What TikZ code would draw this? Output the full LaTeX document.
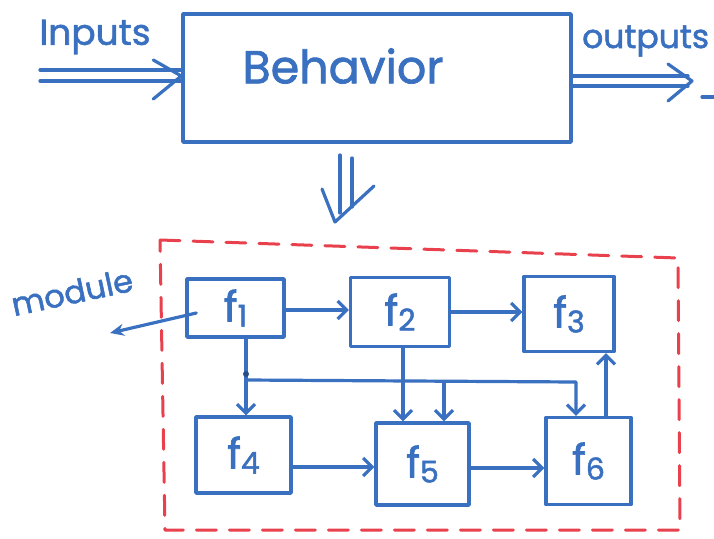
\documentclass[tikz,border=0pt]{standalone}
\usepackage{fontspec}
\setmainfont{Poppins}[FakeBold=1.6]
\usetikzlibrary{arrows.meta}
\definecolor{pen}{RGB}{58,112,192}
\definecolor{redpen}{RGB}{232,64,76}
\newcommand{\flabel}[1]{{\fontsize{42}{42}\selectfont f\raisebox{-5pt}{\fontsize{30}{30}\selectfont #1}}}
\begin{document}
\begin{tikzpicture}[x=1pt,y=-1pt,
  line cap=round, line join=round,
  box/.style={draw=pen, line width=3.4pt, inner sep=0pt, text=pen},
  wire/.style={draw=pen, line width=3.2pt},
  arr/.style={wire, -{Straight Barb[length=9pt,width=18pt,line width=3.2pt]}},
  handtext/.style={text=pen, inner sep=0pt},
  frame/.style={draw=redpen, line width=3pt, dash pattern=on 20pt off 13pt}]
\useasboundingbox (0,0) rectangle (714,538);

% top level: the behaviour block with its inputs and outputs
\node[box, minimum width=388pt, minimum height=128pt] (beh) at (377,78) {};
\node[handtext, font=\fontsize{46}{46}\selectfont] (behtxt) at (343,66) {Behavior};
\node[handtext, font=\fontsize{36}{36}\selectfont] (inlbl) at (95,37) {Inputs};
\node[handtext, font=\fontsize{33}{33}\selectfont, anchor=west] (outlbl) at (582,41) {outputs};

% double input arrow
\coordinate (inA) at (40,70);
\coordinate (inB) at (40,81);
\draw[wire] (inA) -- (inA -| beh.west);
\draw[wire] (inB) -- (inB -| beh.west);
\draw[wire] (beh.west |- 0,76) ++(-28,-16) -- ++(28,16) -- ++(-28,23);

% double output arrow
\coordinate (outtip) at (692,81);
\draw[wire] (beh.east |- 0,76) -- (688,76);
\draw[wire] (beh.east |- 0,86) -- (688,86);
\draw[wire] (outtip) ++(-24,-17) -- (outtip) -- ++(-24,20);
\draw[wire] (702,97) -- (716,97);

% refinement arrow
\coordinate (dA) at (340,155);
\coordinate (dB) at (352,158);
\coordinate (dtip) at (335,222);
\draw[wire] (dA) -- (340,213);
\draw[wire] (dB) -- (352,207);
\draw[wire] (dtip) ++(-13,-33) -- (dtip) -- ++(39,-36);

% module boundary
\draw[frame] (160,240) -- (678,258) -- (680,530) -- (165,530) -- cycle;
\node[handtext, font=\fontsize{32}{32}\selectfont, rotate=12] (modlbl) at (72,292) {module};
\coordinate (modtip) at (110,333);

% functions
\node[box, minimum width=97pt, minimum height=58pt] (f1) at (235.5,308) {\flabel{1}};
\node[box, minimum width=99pt, minimum height=69pt] (f2) at (400,312) {\flabel{2}};
\node[box, minimum width=90pt, minimum height=75pt] (f3) at (569,314) {\flabel{3}};
\node[box, minimum width=95pt, minimum height=76pt] (f4) at (243.5,455) {\flabel{4}};
\node[box, minimum width=93pt, minimum height=82pt] (f5) at (422.5,464) {\flabel{5}};
\node[box, minimum width=85pt, minimum height=87pt] (f6) at (588.5,461) {\flabel{6}};

% connections
\draw[wire, -{Stealth[length=14pt,width=12pt]}] ([shift={(11,5)}]f1.west) -- (modtip);
\draw[arr] (f1.east |- 0,310) -- (f2.west |- 0,310);
\draw[arr] (f2.east |- 0,312) -- (f3.west |- 0,312);

\coordinate (j) at (246,380);
\draw[arr] (f1.south -| j) -- (f4.north -| j);
\fill[pen!70!black] (246,374) circle (3pt);
\coordinate (jr) at (576,382);
\coordinate (jm) at (444,382);
\draw[arr] (j) -- (jr) -- (f6.north -| jr);
\draw[arr] (jm) -- (f5.north -| jm);
\coordinate (s2) at (403,0);
\draw[arr] (f2.south -| s2) -- (f5.north -| s2);
\coordinate (s6) at (606,0);
\draw[arr] (f6.north -| s6) -- (f3.south -| s6);
\draw[arr] (f4.east |- 0,467) -- (f5.west |- 0,467);
\draw[arr] (f5.east |- 0,468) -- (f6.west |- 0,468);
\end{tikzpicture}
\end{document}
